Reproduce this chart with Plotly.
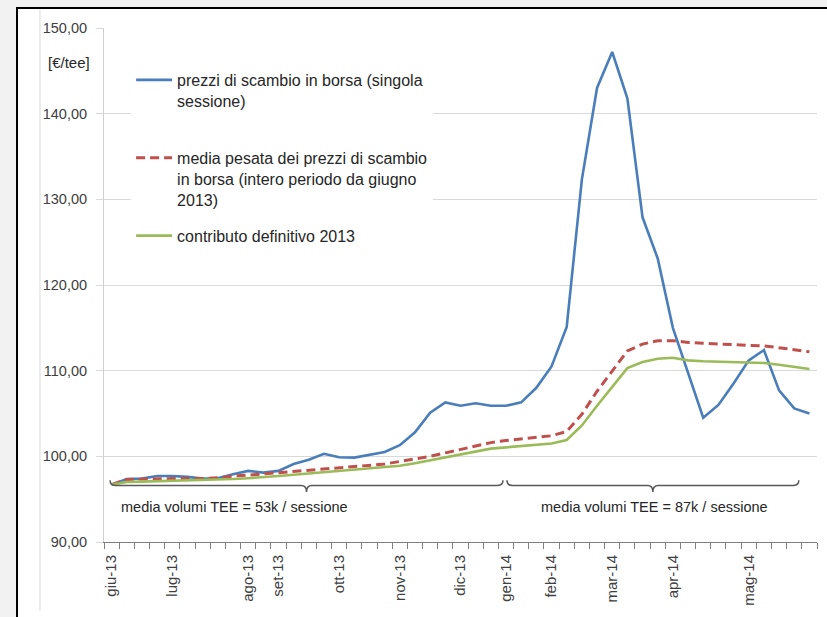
import plotly.graph_objects as go

# ---------------- data ----------------
sessions = list(range(47))
prezzi_borsa = [96.7, 97.35, 97.4, 97.7, 97.7, 97.6, 97.4, 97.45, 97.9, 98.3,
                98.1, 98.3, 99.1, 99.6, 100.3, 99.9, 99.85, 100.2, 100.5, 101.3,
                102.8, 105.1, 106.3, 105.9, 106.2, 105.9, 105.9, 106.3, 108.0, 110.5,
                115.1, 132.3, 143.0, 147.2, 141.8, 127.9, 123.1, 115.0, 109.8, 104.5,
                106.0, 108.5, 111.2, 112.4, 107.7, 105.6, 105.0]
media_pesata = [96.7, 97.3, 97.35, 97.4, 97.4, 97.4, 97.4, 97.5, 97.7, 97.8,
                97.95, 98.1, 98.25, 98.4, 98.55, 98.7, 98.8, 98.95, 99.1, 99.4,
                99.7, 100.0, 100.4, 100.8, 101.2, 101.6, 101.85, 102.05, 102.2, 102.4,
                102.9, 104.9, 107.6, 110.0, 112.3, 113.1, 113.5, 113.5, 113.3, 113.2,
                113.1, 113.0, 112.95, 112.9, 112.7, 112.45, 112.2]
contributo = [96.7, 97.0, 97.05, 97.1, 97.15, 97.2, 97.2, 97.25, 97.35, 97.45,
              97.55, 97.7, 97.85, 98.0, 98.1, 98.25, 98.4, 98.55, 98.7, 98.9,
              99.2, 99.55, 99.9, 100.25, 100.6, 100.9, 101.05, 101.2, 101.35, 101.5,
              101.9, 103.6, 105.9, 108.1, 110.3, 111.0, 111.4, 111.5, 111.2, 111.1,
              111.05, 111.0, 110.95, 110.9, 110.7, 110.45, 110.2]
tick_positions = [0, 4, 9, 11, 15, 19, 23, 26, 29, 33, 37, 42]
tick_labels = ["giu-13", "lug-13", "ago-13", "set-13", "ott-13", "nov-13",
               "dic-13", "gen-14", "feb-14", "mar-14", "apr-14", "mag-14"]
y_ticks = [90, 100, 110, 120, 130, 140, 150]

name_prezzi = "prezzi di scambio in borsa (singola<br>sessione)<br> "
name_media = "media pesata dei prezzi di scambio<br>in borsa (intero periodo da giugno<br>2013)"
name_contr = "contributo definitivo 2013"
label_53k = "media volumi TEE = 53k / sessione"
label_87k = "media volumi TEE = 87k / sessione"

FONT = "Liberation Sans, Arial, sans-serif"
TXT = "#404040"

fig = go.Figure()
fig.add_trace(go.Scatter(x=sessions, y=prezzi_borsa, mode="lines", name=name_prezzi,
                         legendgroup="a", line=dict(color="#4a7ebb", width=2.6)))
fig.add_trace(go.Scatter(x=sessions, y=media_pesata, mode="lines", name=name_media,
                         legendgroup="b", line=dict(color="#c0504d", width=3, dash="9px,5px")))
fig.add_trace(go.Scatter(x=sessions, y=contributo, mode="lines", name=name_contr,
                         legendgroup="c", line=dict(color="#9bbb59", width=2.6)))


def bracket(x0, x1, yb=96.6, yup=97.2, ydn=95.85, r=0.35):
    xc = (x0 + x1) / 2
    return (f"M{x0},{yup} Q{x0},{yb} {x0 + r},{yb} L{xc - r},{yb} "
            f"Q{xc},{yb} {xc},{ydn} Q{xc},{yb} {xc + r},{yb} "
            f"L{x1 - r},{yb} Q{x1},{yb} {x1},{yup}")


shapes = [
    # outer frame
    dict(type="rect", xref="paper", yref="paper", x0=-0.122, x1=1.05, y0=-0.2, y1=1.0389,
         fillcolor="white", line=dict(color="black", width=2), layer="below"),
    dict(type="line", xref="paper", yref="paper", x0=-0.0898, x1=-0.0898, y0=-0.134, y1=1.035,
         line=dict(color="#d9d9d9", width=1), layer="below"),
    dict(type="path", xref="x", yref="y", path=bracket(-0.1, 25.8),
         line=dict(color="#595959", width=1.5)),
    dict(type="path", xref="x", yref="y", path=bracket(26.06, 45.3),
         line=dict(color="#595959", width=1.5)),
]

annotations = [
    dict(text=label_53k, x=8.07, y=94.1, xref="x", yref="y", showarrow=False,
         xanchor="center", yanchor="middle", font=dict(family=FONT, size=14.5, color="#262626")),
    dict(text=label_87k, x=35.8, y=94.1, xref="x", yref="y", showarrow=False,
         xanchor="center", yanchor="middle", font=dict(family=FONT, size=14.5, color="#262626")),
    dict(text="[€/tee]", x=-0.049, y=146.0, xref="paper", yref="y", showarrow=False,
         xanchor="center", yanchor="middle", font=dict(family=FONT, size=15, color="#262626")),
]

fig.update_layout(
    width=827, height=617, autosize=False,
    margin=dict(l=104, r=10, t=28, b=75),
    paper_bgcolor="#f2f2f2", plot_bgcolor="white",
    separators=",.",
    font=dict(family=FONT, color=TXT),
    shapes=shapes, annotations=annotations,
    legend=dict(x=0.038, y=0.932, xanchor="left", yanchor="top",
                bgcolor="white", borderwidth=0, valign="top", itemwidth=36,
                tracegroupgap=12.5, traceorder="grouped",
                font=dict(family=FONT, size=16, color="#262626")),
    xaxis=dict(range=[-0.5, 46.5], tickmode="array", tickvals=tick_positions,
               ticktext=tick_labels, tickangle=-90, ticks="outside", ticklen=6,
               tickcolor="rgba(0,0,0,0)", showgrid=False, zeroline=False,
               showline=True, linecolor="#7f7f7f", linewidth=1,
               tickfont=dict(family=FONT, size=15, color=TXT),
               minor=dict(tickmode="array", tickvals=[k - 0.5 for k in range(48)],
                          ticks="outside", ticklen=6, tickcolor="#7f7f7f", showgrid=False)),
    yaxis=dict(range=[90, 150], tickmode="array", tickvals=y_ticks, tickformat=".2f",
               ticks="outside", ticklen=7, tickcolor="#d9d9d9", showgrid=True,
               gridcolor="#d9d9d9", gridwidth=1, zeroline=False, showline=True,
               linecolor="#d0d0d0", linewidth=1, ticklabelstandoff=6,
               tickfont=dict(family=FONT, size=14.5, color=TXT)),
)

fig.write_html(
    "out.html",
    config={"displayModeBar": False},
    post_script=("document.body.style.margin='0px';"
                 "document.body.style.backgroundColor='#f2f2f2';"
                 "document.documentElement.style.overflow='hidden';"),
)
